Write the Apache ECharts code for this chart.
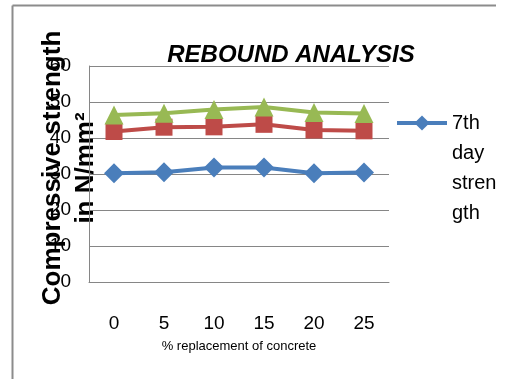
<!DOCTYPE html>
<html>
<head>
<meta charset="utf-8">
<script src="https://cdn.jsdelivr.net/npm/echarts@6/dist/echarts.min.js"></script>
<style>
html,body{margin:0;padding:0;background:#fff;}
#chart{width:506px;height:379px;}
</style>
</head>
<body>
<div id="chart"></div>
<script>
const categories = ['0', '5', '10', '15', '20', '25'];
const day7 = [30.2, 30.5, 31.8, 31.8, 30.2, 30.4];
const day14 = [41.8, 43.0, 43.1, 43.8, 42.2, 42.0];
const day28 = [46.4, 46.9, 47.9, 48.6, 47.1, 46.8];
const seriesNames = ['7th day strength', '14th day strength', '28th day strength'];
const titleText = 'REBOUND ANALYSIS';
const xName = '% replacement of concrete';
const yName = 'Compressive strength\nin N/mm²';

const chart = echarts.init(document.getElementById('chart'), null, {renderer: 'canvas'});
const gridColor = '#868686';
chart.setOption({
  animation: false,
  backgroundColor: '#fff',
  title: {
    text: titleText,
    left: 286, top: 38, textAlign: 'center',
    textStyle: {fontFamily: 'Liberation Sans', fontSize: 24, fontWeight: 'bold', fontStyle: 'italic', color: '#000'}
  },
  graphic: [
    {type: 'line', shape: {x1: 12.5, y1: 5.5, x2: 496, y2: 5.5}, style: {stroke: '#8c8c8c', lineWidth: 2}},
    {type: 'line', shape: {x1: 12.5, y1: 5.5, x2: 12.5, y2: 379}, style: {stroke: '#8c8c8c', lineWidth: 2}}
  ],
  legend: {
    data: [seriesNames[0]],
    orient: 'vertical',
    left: 390, top: 13,
    itemWidth: 50, itemHeight: 19,
    lineStyle: {width: 4},
    formatter: function () { return ' \n \n \n7th\nday\nstren\ngth'; },
    textStyle: {fontFamily: 'Liberation Sans', fontSize: 20, lineHeight: 30, color: '#000'}
  },
  grid: {left: 89, top: 66, right: 117, bottom: 97, containLabel: false, outerBoundsMode: 'none'},
  xAxis: {
    type: 'category',
    data: categories,
    boundaryGap: true,
    name: xName,
    nameLocation: 'middle',
    nameGap: 58,
    nameMoveOverlap: false,
    nameTextStyle: {fontFamily: 'Liberation Sans', fontSize: 13, color: '#000'},
    axisLine: {show: true, lineStyle: {color: gridColor, width: 1}},
    axisTick: {show: false},
    axisLabel: {margin: 32, fontFamily: 'Liberation Sans', fontSize: 19, color: '#000'},
    splitLine: {show: false}
  },
  yAxis: {
    type: 'value',
    min: 0, max: 60, interval: 10,
    name: yName,
    nameLocation: 'middle',
    nameRotate: 90,
    nameGap: -13,
    nameMoveOverlap: false,
    nameTextStyle: {fontFamily: 'Liberation Sans', fontSize: 26, fontWeight: 'bold', lineHeight: 33, color: '#000', padding: [0, 0, 0, 12]},
    axisLine: {show: true, lineStyle: {color: gridColor, width: 1}},
    axisTick: {show: false},
    axisLabel: {margin: 18, fontFamily: 'Liberation Sans', fontSize: 19, color: '#000'},
    splitLine: {show: true, lineStyle: {color: gridColor, width: 1}}
  },
  series: [
    {name: seriesNames[0], type: 'line', data: day7, symbol: 'diamond', symbolSize: 20,
     lineStyle: {color: '#4A7EBB', width: 4}, itemStyle: {color: '#4A7EBB'}},
    {name: seriesNames[1], type: 'line', data: day14, symbol: 'rect', symbolSize: 17,
     lineStyle: {color: '#BE4B48', width: 4}, itemStyle: {color: '#BE4B48'}},
    {name: seriesNames[2], type: 'line', data: day28, symbol: 'triangle', symbolSize: 19,
     lineStyle: {color: '#98B954', width: 4}, itemStyle: {color: '#98B954'}}
  ]
});
</script>
</body>
</html>
